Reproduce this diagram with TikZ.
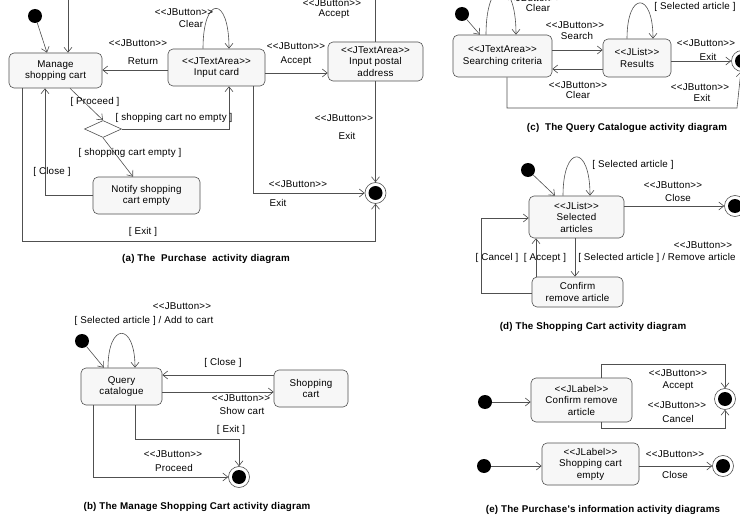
\documentclass[tikz,border=0pt]{standalone}
\usepackage{fontspec}
\setmainfont{Liberation Sans}[Ligatures=TeXOff, LetterSpace=2]
\usetikzlibrary{arrows.meta,shapes.geometric}
\definecolor{lc}{HTML}{505050}
\definecolor{bx}{HTML}{F7F7F7}
\begin{document}
\begin{tikzpicture}[x=1pt,y=-1pt,
  font=\fontsize{9.8}{11.5}\selectfont,
  cn/.style={draw=lc, line width=0.6pt},
  arr/.style={cn, -{Straight Barb[length=5pt,width=8pt]}},
  box/.style={draw=lc, fill=bx, rounded corners=5pt, align=center, inner sep=1pt, line width=0.6pt},
  lbl/.style={inner sep=0, align=center},
  capt/.style={inner sep=0, font=\bfseries\fontsize{9.8}{11}\selectfont},
  init/.style={circle, fill=black, minimum size=14pt, inner sep=0},
  fin/.style={circle, draw=lc, fill=white, line width=0.6pt, minimum size=21pt, inner sep=0,
    path picture={\fill[black] (path picture bounding box.center) circle (7pt);}},
]
\useasboundingbox (0,0) rectangle (740,519);
\fill[white] (0,0) rectangle (740,519);

% ================= (a) =================
\coordinate (tm) at (68,-2);
\coordinate (ta) at (375.5,-2);
\node[init] (ia) at (35,16) {};
\node[box, minimum width=93pt, minimum height=35pt] (man) at (55.5,70.5) {Manage\\shopping cart};
\node[box, minimum width=97pt, minimum height=37pt] (inp) at (216.5,67.5) {<<JTextArea>>\\Input card};
\node[box, minimum width=95pt, minimum height=39pt] (pos) at (375.5,61.5) {<<JTextArea>>\\Input postal\\address};
\node[box, minimum width=107pt, minimum height=37pt] (not) at (146.5,195.5) {Notify shopping\\cart empty};
\node[draw=lc, fill=white, line width=0.6pt, diamond, minimum width=37pt, minimum height=17pt, inner sep=0] (dia) at (103,129) {};
\node[fin] (fa) at (375.5,193) {};

\draw[arr] (ia) -- (man.north -| 47,0);
\draw[arr] (tm) -- (man.north -| tm);
\draw[cn] (ta) -- (pos.north);
\draw[arr] (inp.north -| 203,0) .. controls (203,-5) and (229,-5) .. (inp.north -| 229,0);
\draw[arr] (inp.west |- 0,70) -- (man.east |- 0,70);
\draw[arr] (inp.east |- 0,73) -- (pos.west |- 0,73);
\draw[arr] (man.south -| 70,0) -- (dia.north);
\draw[arr] (dia.east) -| (inp.south -| 229,0);
\draw[arr] (dia.south) -- (not.north -| 133,0);
\draw[arr] (not.west) -| (man.south -| 45,0);
\draw[arr] (man.south -| 22,0) |- (375.5,241) -- (fa.south);
\draw[arr] (inp.south -| 253,0) |- (fa.west);
\draw[arr] (pos.south) -- (fa.north);

\node[lbl] (a1) at (332,3) {<<JButton>>};
\node[lbl] (a2) at (334,14) {Accept};
\node[lbl] (a3) at (184,12) {<<JButton>>};
\node[lbl] (a4) at (191,24) {Clear};
\node[lbl] (a5) at (138,43) {<<JButton>>};
\node[lbl] (a6) at (143,61) {Return};
\node[lbl] (a7) at (296,46) {<<JButton>>};
\node[lbl] (a8) at (296,61) {Accept};
\node[lbl] (a9) at (344,118) {<<JButton>>};
\node[lbl] (a10) at (347,136) {Exit};
\node[lbl] (a11) at (95,102) {[ Proceed ]};
\node[lbl] (a12) at (174,118) {[ shopping cart no empty ]};
\node[lbl] (a13) at (130,153) {[ shopping cart empty ]};
\node[lbl] (a14) at (52,172) {[ Close ]};
\node[lbl] (a15) at (298,184) {<<JButton>>};
\node[lbl] (a16) at (278,203) {Exit};
\node[lbl] (a17) at (143,232) {[ Exit ]};
\node[capt] (ca) at (206,259) {(a) The\ \ Purchase\ \ activity diagram};

% ================= (b) =================
\node[init] (ib) at (82,341) {};
\node[box, minimum width=81pt, minimum height=37pt] (qc) at (121.5,386.5) {Query\\catalogue};
\node[box, minimum width=74pt, minimum height=37pt] (sc) at (311,388.5) {Shopping\\cart};
\node[fin] (fb) at (239,477) {};

\draw[arr] (ib) -- (qc.north -| 104,0);
\draw[arr] (qc.north -| 108,0) .. controls (108,322) and (135,322) .. (qc.north -| 135,0);
\draw[arr] (sc.west |- 0,375) -- (qc.east |- 0,375);
\draw[arr] (qc.east |- 0,392) -- (sc.west |- 0,392);
\draw[arr] (qc.south -| 135,0) |- (239,439) -- (fb.north);
\draw[arr] (qc.south -| 93,0) |- (fb.west);

\node[lbl] (b1) at (182,306) {<<JButton>>};
\node[lbl] (b2) at (144,321) {[ Selected article ] / Add to cart};
\node[lbl] (b3) at (223,363) {[ Close ]};
\node[lbl] (b4) at (241,398) {<<JButton>>};
\node[lbl] (b5) at (242,411) {Show cart};
\node[lbl] (b6) at (231,430) {[ Exit ]};
\node[lbl] (b7) at (173,454) {<<JButton>>};
\node[lbl] (b8) at (174,468) {Proceed};
\node[capt] (cb) at (197,507) {(b) The Manage Shopping Cart activity diagram};

% ================= (c) =================
\node[init] (ic) at (462,14) {};
\node[box, minimum width=99pt, minimum height=42pt] (sea) at (502.5,56) {<<JTextArea>>\\Searching criteria};
\node[box, minimum width=68pt, minimum height=38pt] (res) at (637,58) {<<JList>>\\Results};
\node[fin] (fc) at (742,61) {};

\draw[arr] (ic) -- (sea.north -| 480,0);
\draw[arr] (sea.north -| 486,0) .. controls (486,-25) and (516,-25) .. (sea.north -| 516,0);
\draw[arr] (res.north -| 627,0) .. controls (627,-9) and (653,-9) .. (res.north -| 653,0);
\draw[arr] (sea.east |- 0,50) -- (res.west |- 0,50);
\draw[arr] (res.west |- 0,69) -- (sea.east |- 0,69);
\draw[arr] (res.east |- fc) -- (fc);
\draw[arr] (sea.south -| 507,0) |- (737,108) -- (fc);

\node[lbl] (c1) at (533,-2) {<<JButton>>};
\node[lbl] (c2) at (538,8) {Clear};
\node[lbl] (c3) at (695,7) {[ Selected article ]};
\node[lbl] (c4) at (575,25) {<<JButton>>};
\node[lbl] (c5) at (577,36) {Search};
\node[lbl] (c6) at (578,85) {<<JButton>>};
\node[lbl] (c7) at (578,95) {Clear};
\node[lbl] (c8) at (706,43) {<<JButton>>};
\node[lbl] (c9) at (708,57) {Exit};
\node[lbl] (c10) at (700,87) {<<JButton>>};
\node[lbl] (c11) at (702,98) {Exit};
\node[capt] (cc) at (627,128) {(c)\ \ The Query Catalogue activity diagram};

% ================= (d) =================
\node[init] (id) at (528,170) {};
\node[box, minimum width=95pt, minimum height=42pt] (sel) at (576.5,217) {<<JList>>\\Selected\\articles};
\node[box, minimum width=91pt, minimum height=30pt] (cf) at (577.5,292) {Confirm\\remove article};
\node[fin] (fd) at (735,206) {};

\draw[arr] (id) -- (sel.north -| 555,0);
\draw[arr] (sel.north -| 563,0) .. controls (563,144) and (590,144) .. (sel.north -| 590,0);
\draw[arr] (sel.east |- fd) -- (fd);
\draw[arr] (sel.south -| 575,0) -- (cf.north -| 575,0);
\draw[arr] (cf.north -| 536,0) -- (sel.south -| 536,0);
\draw[arr] (cf.west |- 0,293) -| (481,218) -- (sel.west |- 0,218);

\node[lbl] (d1) at (633,165) {[ Selected article ]};
\node[lbl] (d2) at (673,185) {<<JButton>>};
\node[lbl] (d3) at (678,198) {Close};
\node[lbl] (d4) at (703,245) {<<JButton>>};
\node[lbl] (d5) at (657,258) {[ Selected article ] / Remove article};
\node[lbl] (d6) at (497,258) {[ Cancel ]};
\node[lbl] (d7) at (545,258) {[ Accept ]};
\node[capt] (cd) at (593,327) {(d) The Shopping Cart activity diagram};

% ================= (e) =================
\node[init] (ie1) at (485,402) {};
\node[box, minimum width=101pt, minimum height=44pt] (e1) at (581.5,400) {<<JLabel>>\\Confirm remove\\article};
\node[fin] (fe1) at (725,399) {};
\node[init] (ie2) at (484,466) {};
\node[box, minimum width=97pt, minimum height=42pt] (e2) at (590.5,464) {<<JLabel>>\\Shopping cart\\empty};
\node[fin] (fe2) at (723,466) {};

\draw[arr] (ie1) -- (e1.west |- ie1);
\draw[arr] (e1.north -| 601,0) -- (601,364) -| (fe1.north);
\draw[arr] (e1.south -| 601,0) -- (601,428) -| (fe1.south);
\draw[arr] (ie2) -- (e2.west |- ie2);
\draw[arr] (e2.east |- fe2) -- (fe2);

\node[lbl] (e3) at (678,373) {<<JButton>>};
\node[lbl] (e4) at (678,386) {Accept};
\node[lbl] (e5) at (677,405) {<<JButton>>};
\node[lbl] (e6) at (678,419) {Cancel};
\node[lbl] (e7) at (675,454) {<<JButton>>};
\node[lbl] (e8) at (675,475) {Close};
\node[capt] (ce) at (603,510) {(e) The Purchase's information activity diagrams};
\end{tikzpicture}
\end{document}
